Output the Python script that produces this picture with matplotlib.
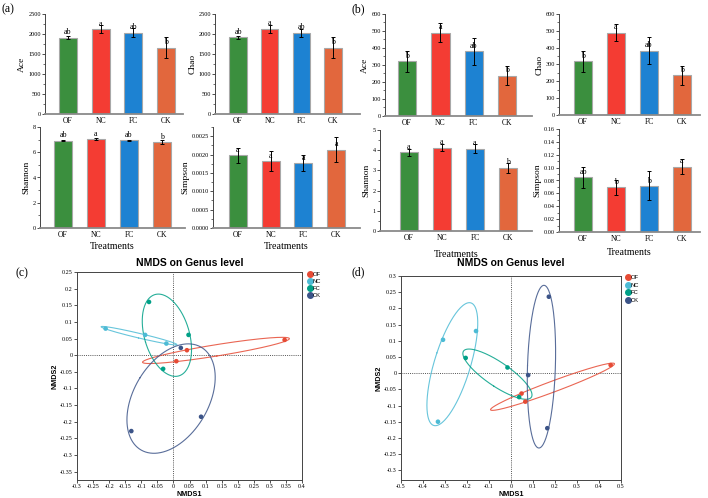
import numpy as np
import matplotlib
matplotlib.use('Agg')
import matplotlib.pyplot as plt
from matplotlib.ticker import AutoMinorLocator, FuncFormatter
from matplotlib.lines import Line2D

SERIF = 'Liberation Serif'
SANS = 'Liberation Sans'

# ---------------- data ----------------
treatments = ['OF', 'NC', 'FC', 'CK']
bar_colors = ['#3B8F3E', '#F43C33', '#1D82D2', '#E2673D']

a_ace = [1908, 2125, 2030, 1655]
a_ace_err = [35, 105, 110, 260]
a_ace_let = ['ab', 'a', 'ab', 'b']
a_chao = [1915, 2130, 2030, 1655]
a_chao_err = [30, 105, 105, 260]
a_chao_let = ['ab', 'a', 'ab', 'b']
a_shannon = [6.92, 7.05, 6.94, 6.79]
a_shannon_err = [0.05, 0.08, 0.04, 0.17]
a_shannon_let = ['ab', 'a', 'ab', 'b']
a_simpson = [0.00198, 0.00182, 0.00177, 0.00213]
a_simpson_err = [0.00020, 0.00027, 0.00022, 0.00034]
a_simpson_let = ['a', 'a', 'a', 'a']

b_ace = [321, 490, 381, 238]
b_ace_err = [62, 55, 80, 58]
b_ace_let = ['b', 'a', 'ab', 'b']
b_chao = [318, 489, 382, 236]
b_chao_err = [60, 52, 80, 56]
b_chao_let = ['b', 'a', 'ab', 'b']
b_shannon = [3.89, 4.13, 4.08, 3.14]
b_shannon_err = [0.18, 0.18, 0.23, 0.25]
b_shannon_let = ['a', 'a', 'a', 'b']
b_simpson = [0.0848, 0.0695, 0.0715, 0.1015]
b_simpson_err = [0.016, 0.0115, 0.0225, 0.0115]
b_simpson_let = ['ab', 'b', 'b', 'a']

nmds_groups = ['OF', 'NC', 'FC', 'CK']
nmds_colors = ['#E64B35', '#4DBBD5', '#00A087', '#3C5488']

c_x = {'OF': [0.346, 0.042, 0.009], 'NC': [-0.211, -0.088, -0.022],
       'FC': [-0.076, 0.047, -0.032], 'CK': [0.023, 0.086, -0.131]}
c_y = {'OF': [0.046, 0.015, -0.018], 'NC': [0.080, 0.061, 0.035],
       'FC': [0.160, 0.061, -0.041], 'CK': [0.022, -0.185, -0.228]}

d_x = {'OF': [0.453, 0.048, 0.065], 'NC': [-0.309, -0.159, -0.332],
       'FC': [-0.206, -0.016, 0.037], 'CK': [0.172, 0.078, 0.165]}
d_y = {'OF': [0.025, -0.063, -0.088], 'NC': [0.103, 0.130, -0.150],
       'FC': [0.047, 0.0175, -0.074], 'CK': [0.236, -0.006, -0.170]}

ELLIPSE_K = 1.23

# ---------------- figure ----------------
W, H = 708, 498
fig = plt.figure(figsize=(W / 100, H / 100), dpi=100)


def pxax(l, t, r, b):
    return fig.add_axes([l / W, 1 - b / H, (r - l) / W, (b - t) / H])


def bar_panel(ax, vals, errs, letters, ylabel, ylim, yticks, fmt, xlim,
              xlabel=None, xlabelpad=3):
    x = np.arange(1, len(treatments) + 1)
    ax.bar(x, vals, width=0.55, color=bar_colors, edgecolor='#a8a8a8',
           linewidth=0.8, zorder=2)
    ax.errorbar(x, vals, yerr=errs, fmt='none', ecolor='black',
                elinewidth=0.7, capsize=1.5, capthick=0.7, zorder=3)
    for xi, v, l in zip(x, vals, letters):
        ax.annotate(l, (xi, v), xytext=(0, 1.0), textcoords='offset points',
                    ha='center', va='bottom', fontsize=5.8, family=SERIF,
                    zorder=4)
    ax.set_xlim(xlim)
    ax.set_ylim(ylim)
    ax.set_yticks(yticks)
    ax.yaxis.set_major_formatter(FuncFormatter(lambda v, p: fmt.format(v)))
    ax.yaxis.set_minor_locator(AutoMinorLocator(2))
    ax.set_xticks(x)
    ax.set_xticklabels(treatments, family=SERIF)
    ax.tick_params(axis='x', length=0, pad=2.5, labelsize=5.5)
    ax.tick_params(axis='y', which='major', length=2, width=0.6,
                   labelsize=4.5, pad=1, direction='out', colors='#333333',
                   labelcolor='black')
    ax.tick_params(axis='y', which='minor', length=1.2, width=0.5,
                   colors='#333333')
    for lab in ax.get_yticklabels():
        lab.set_family(SERIF)
    ax.spines['top'].set_visible(False)
    ax.spines['right'].set_visible(False)
    ax.spines['left'].set_color('#444444')
    ax.spines['left'].set_linewidth(0.7)
    ax.spines['bottom'].set_color('#8a8a8a')
    ax.spines['bottom'].set_linewidth(1.3)
    ax.set_ylabel(ylabel, family=SERIF, fontsize=6.8, labelpad=1.5)
    if xlabel:
        ax.set_xlabel(xlabel, family=SERIF, fontsize=7.2, labelpad=xlabelpad)


# panel (a)
ax = pxax(45, 14, 183, 114)
bar_panel(ax, a_ace, a_ace_err, a_ace_let, 'Ace', (0, 2500),
          np.arange(0, 2501, 500), '{:.0f}', (0.30, 4.52))
ax = pxax(215, 14, 360, 114)
bar_panel(ax, a_chao, a_chao_err, a_chao_let, 'Chao', (0, 2500),
          np.arange(0, 2501, 500), '{:.0f}', (0.27, 4.85))
ax = pxax(40, 127, 185, 228)
bar_panel(ax, a_shannon, a_shannon_err, a_shannon_let, 'Shannon', (0, 8),
          np.arange(0, 9, 2), '{:.0f}', (0.30, 4.70), 'Treatments', 2)
ax = pxax(213, 127, 360, 228)
bar_panel(ax, a_simpson, a_simpson_err, a_simpson_let, 'Simpson',
          (0, 0.00275), np.arange(0, 0.00251, 0.0005), '{:.4f}',
          (0.235, 4.73), 'Treatments', 2)

# panel (b)
ax = pxax(385, 14, 532, 116)
bar_panel(ax, b_ace, b_ace_err, b_ace_let, 'Ace', (0, 600),
          np.arange(0, 601, 100), '{:.0f}', (0.34, 4.75))
ax = pxax(559, 14, 700, 115)
bar_panel(ax, b_chao, b_chao_err, b_chao_let, 'Chao', (0, 600),
          np.arange(0, 601, 100), '{:.0f}', (0.27, 4.55))
ax = pxax(380, 130, 532, 231)
bar_panel(ax, b_shannon, b_shannon_err, b_shannon_let, 'Shannon', (0, 5),
          np.arange(0, 6, 1), '{:.0f}', (0.12, 4.73), 'Treatments', 5.5)
ax = pxax(559, 129, 700, 232)
bar_panel(ax, b_simpson, b_simpson_err, b_simpson_let, 'Simpson',
          (0, 0.16), np.arange(0, 0.161, 0.02), '{:.2f}', (0.27, 4.55),
          'Treatments', 3)


def ellipse_xy(x, y, k, n=200):
    x = np.asarray(x)
    y = np.asarray(y)
    cov = np.cov(x, y)
    vals, vecs = np.linalg.eigh(cov)
    vals = np.clip(vals, 0, None)
    t = np.linspace(0, 2 * np.pi, n)
    circ = np.vstack([np.cos(t), np.sin(t)])
    pts = vecs @ (np.sqrt(vals)[:, None] * circ) * k
    return pts[0] + x.mean(), pts[1] + y.mean()


def fmt_g(v, p):
    s = '{:.2f}'.format(v).rstrip('0').rstrip('.')
    if s in ('-0', ''):
        s = '0'
    return s


def nmds_panel(ax, xs, ys, xlim, ylim, xticks, yticks, title, titlepad,
               legend_xy, legend_spacing):
    ax.axhline(0, ls=(0, (1, 1.2)), color='#555555', lw=0.7, zorder=1)
    ax.axvline(0, ls=(0, (1, 1.2)), color='#555555', lw=0.7, zorder=1)
    handles = []
    for g, c in zip(nmds_groups, nmds_colors):
        ex, ey = ellipse_xy(xs[g], ys[g], ELLIPSE_K)
        ax.plot(ex, ey, color=c, lw=0.8, alpha=0.85, zorder=2)
        ax.scatter(xs[g], ys[g], s=11, color=c, edgecolor='none', zorder=3)
        handles.append(Line2D([], [], marker='o', ls='', color=c,
                              markersize=4, label=g))
    ax.set_xlim(xlim)
    ax.set_ylim(ylim)
    ax.set_xticks(xticks)
    ax.set_yticks(yticks)
    ax.xaxis.set_major_formatter(FuncFormatter(fmt_g))
    ax.yaxis.set_major_formatter(FuncFormatter(fmt_g))
    ax.tick_params(axis='both', length=2, width=0.6, labelsize=4.4, pad=1,
                   direction='out', colors='#333333', labelcolor='black')
    for lab in ax.get_xticklabels() + ax.get_yticklabels():
        lab.set_family(SERIF)
    for s in ax.spines.values():
        s.set_color('#444444')
        s.set_linewidth(0.7)
    ax.set_xlabel('NMDS1', family=SANS, fontweight='bold', fontsize=5.2,
                  labelpad=1)
    ax.set_ylabel('NMDS2', family=SANS, fontweight='bold', fontsize=5.2,
                  labelpad=1)
    ax.set_title(title, family=SANS, fontweight='bold', fontsize=7.5,
                 pad=titlepad)
    ax.legend(handles=handles, loc='upper left',
              bbox_to_anchor=(legend_xy[0] / W, 1 - legend_xy[1] / H),
              bbox_transform=fig.transFigure, frameon=False,
              prop={'family': SANS, 'size': 4.2}, handlelength=0.6,
              handletextpad=0.25, labelspacing=legend_spacing,
              borderaxespad=0, borderpad=0)


ax = pxax(77, 272, 302, 480)
nmds_panel(ax, c_x, c_y, (-0.3, 0.4), (-0.375, 0.25),
           np.round(np.arange(-0.3, 0.401, 0.05), 2),
           np.round(np.arange(-0.35, 0.251, 0.05), 2),
           'NMDS on Genus level', 4, (308, 272), 0.3)

ax = pxax(401, 276, 621, 480)
nmds_panel(ax, d_x, d_y, (-0.5, 0.5), (-0.33, 0.3),
           np.round(np.arange(-0.5, 0.501, 0.1), 2),
           np.round(np.arange(-0.3, 0.301, 0.05), 2),
           'NMDS on Genus level', 7, (626, 275), 0.42)

# panel labels
for txt, x, y in [('(a)', 2, 9), ('(b)', 352, 9), ('(c)', 15, 273),
                  ('(d)', 352, 272)]:
    fig.text(x / W, 1 - y / H, txt, family=SERIF, fontsize=8.5,
             ha='left', va='center')

fig.savefig('out.png', dpi=100)
